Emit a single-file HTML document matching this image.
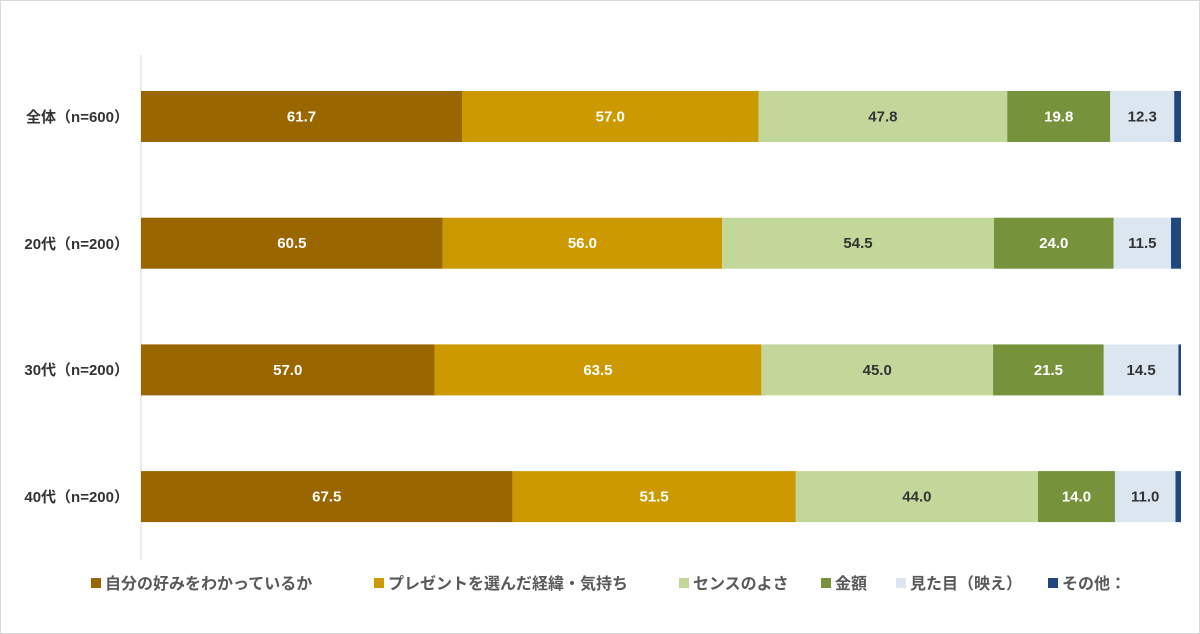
<!DOCTYPE html>
<html><head><meta charset="utf-8"><style>
body{margin:0;background:#fff;}
#wrap{position:relative;width:1198px;height:632px;border:1px solid #d9d9d9;font-family:"Liberation Sans","Noto Sans CJK JP",sans-serif;}
.cat{position:absolute;right:1070px;font-size:15px;color:#333;font-weight:bold;white-space:nowrap;}
.leg{position:absolute;top:569px;font-size:16px;color:#595959;white-space:nowrap;font-weight:bold;}
.sw{display:inline-block;width:10px;height:10px;margin-right:4px;vertical-align:1px;}
</style></head><body>
<div id="wrap">
<svg id="chart" width="1198" height="632" style="position:absolute;left:0;top:0"></svg>
<div class="leg" style="left:90px"><span class="sw" style="background:#996600"></span>自分の好みをわかっているか</div>
<div class="leg" style="left:373px"><span class="sw" style="background:#cc9900"></span>プレゼントを選んだ経緯・気持ち</div>
<div class="leg" style="left:678px"><span class="sw" style="background:#c4d79b"></span>センスのよさ</div>
<div class="leg" style="left:820px"><span class="sw" style="background:#76933c"></span>金額</div>
<div class="leg" style="left:895px"><span class="sw" style="background:#dce6f1"></span>見た目（映え）</div>
<div class="leg" style="left:1047px"><span class="sw" style="background:#1f497d"></span>その他：</div>
</div>
<script>
const categories=["全体（n=600）","20代（n=200）","30代（n=200）","40代（n=200）"];
const sPref=[61.7,60.5,57.0,67.5];
const sReason=[57.0,56.0,63.5,51.5];
const sSense=[47.8,54.5,45.0,44.0];
const sPrice=[19.8,24.0,21.5,14.0];
const sLooks=[12.3,11.5,14.5,11.0];
const sOther=[1.3,2.0,0.5,1.0];
const series=[sPref,sReason,sSense,sPrice,sLooks,sOther];
const colors=["#996600","#cc9900","#c4d79b","#76933c","#dce6f1","#1f497d"];
const textColors=["#fff","#fff","#333","#fff","#333",null];
const names=["bar-preference","bar-reason","bar-sense","bar-price","bar-looks","bar-other"];
const svg=document.getElementById('chart');
const NS="http://www.w3.org/2000/svg";
const x0=140,x1=1180,rowTop=90,rowStep=126.7,barH=51;
function xs(v,tot){return (v/tot)*(x1-x0);}
const ax=document.createElementNS(NS,'line');


ax.setAttribute('x1',x0);ax.setAttribute('x2',x0);ax.setAttribute('y1',54);ax.setAttribute('y2',559);
ax.setAttribute('stroke','#d9d9d9');svg.appendChild(ax);
categories.forEach((c,i)=>{
  const tot=series.reduce((a,s)=>a+s[i],0);
  const y=rowTop+i*rowStep;
  let cx=x0;
  series.forEach((s,k)=>{
    const w=xs(s[i],tot);
    const r=document.createElementNS(NS,'rect');
    
    
    r.setAttribute('x',cx);r.setAttribute('y',y);r.setAttribute('width',w);r.setAttribute('height',barH);
    r.setAttribute('fill',colors[k]);svg.appendChild(r);
    if(textColors[k]){
      const t=document.createElementNS(NS,'text');
      
      
      t.setAttribute('x',cx+w/2);t.setAttribute('y',y+barH/2+5);
      t.setAttribute('text-anchor','middle');t.setAttribute('font-size','15');t.setAttribute('font-weight','bold');
      t.setAttribute('font-family','Liberation Sans, sans-serif');t.setAttribute('fill',textColors[k]);
      t.textContent=s[i].toFixed(1);svg.appendChild(t);
    }
    cx+=w;
  });
  const lab=document.createElement('div');
  
  
  lab.className='cat';lab.style.top=(y+15)+'px';lab.textContent=c;
  document.getElementById('wrap').appendChild(lab);
});
</script>
</body></html>
